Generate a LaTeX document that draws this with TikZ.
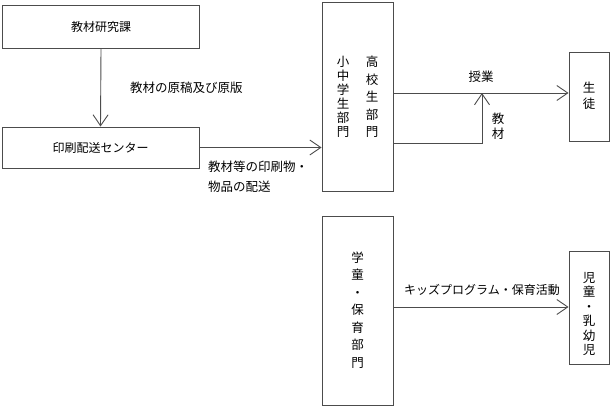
\documentclass[tikz,border=0pt]{standalone}
\usepackage{fontspec}
\setmainfont{Noto Sans CJK JP}
\usetikzlibrary{arrows.meta}
\begin{document}
\begin{tikzpicture}[x=1pt,y=-1pt,
  box/.style={draw=black!70,line width=0.9pt,inner sep=0pt,font=\fontsize{12}{14}\selectfont},
  lbl/.style={inner sep=0pt,font=\fontsize{12.5}{20}\selectfont},
  conn/.style={draw=black!70,line width=0.9pt,-{Straight Barb[length=11pt,width=15pt,line width=0.9pt]}},
  plain/.style={draw=black!70,line width=0.9pt}]
\useasboundingbox (0,0) rectangle (610,407);
% boxes
\node[box,minimum width=197pt,minimum height=43pt] (ken) at (101,27) {教材研究課};
\node[box,minimum width=197pt,minimum height=41pt] (insatsu) at (100.5,147.5) {印刷配送センター};
\node[box,minimum width=71pt,minimum height=189pt] (koko) at (357.5,96.5) {};
\node[box,minimum width=40pt,minimum height=89pt] (seito) at (589,96.5) {};
\node[box,minimum width=71pt,minimum height=189pt] (gakudo) at (357.5,310.5) {};
\node[box,minimum width=40pt,minimum height=113pt] (jido) at (589,307.5) {};
% vertical texts
\node[align=center,inner sep=0pt,font=\fontsize{12.5}{17.5}\selectfont] (t1) at (372,97) {高\\校\\生\\部\\門};
\node[align=center,inner sep=0pt,font=\fontsize{12.5}{14}\selectfont] (t2) at (343,97) {小\\中\\学\\生\\部\\門};
\node[align=center,inner sep=0pt,font=\fontsize{12.5}{15.5}\selectfont] (t3) at (589,96) {生\\徒};
\node[align=center,inner sep=0pt,font=\fontsize{12.5}{17.5}\selectfont] (t4) at (357.5,310) {学\\童\\・\\保\\育\\部\\門};
\node[align=center,inner sep=0pt,font=\fontsize{12.5}{14.5}\selectfont] (t5) at (589,314) {児\\童\\・\\乳\\幼\\児};
% connectors
\draw[conn] (ken.south) -- (insatsu.north);
\node[lbl,anchor=west] (l1) at (130,88) {教材の原稿及び原版};
\draw[conn] (insatsu.east) -- (insatsu.east -| koko.west);
\node[lbl,anchor=north west,align=left,font=\fontsize{12.5}{20}\selectfont] (l2) at (208,161) {教材等の印刷物・\\物品の配送};
\coordinate (k1) at (393,93);
\draw[conn] (k1) -- (k1 -| seito.west);
\node[lbl] (l3) at (481,77) {授業};
\coordinate (k2) at (393,143);
\coordinate (k3) at (482,143);
\coordinate (k4) at (482,93);
\draw[conn] (k2) -- (k3) -- (k4);
\node[align=center,inner sep=0pt,font=\fontsize{12.5}{15}\selectfont] (l4) at (498,126) {教\\材};
\coordinate (g1) at (393,307);
\draw[conn] (g1) -- (g1 -| jido.west);
\node[lbl,font=\fontsize{12}{14}\selectfont] (l5) at (482,290) {キッズプログラム・保育活動};
\end{tikzpicture}
\end{document}
